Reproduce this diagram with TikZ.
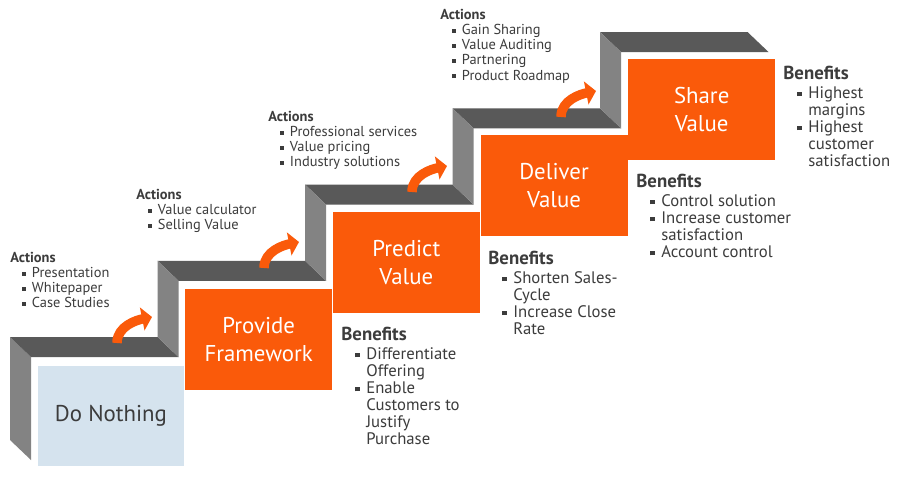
\documentclass[tikz,border=0pt]{standalone}
\usepackage{fontspec}
\setmainfont{PT Sans}
\usetikzlibrary{arrows.meta,positioning}

\definecolor{stepor}{HTML}{FA5A0A}
\definecolor{stepblue}{HTML}{D5E3EE}
\definecolor{topgray}{HTML}{595959}
\definecolor{sidegray}{HTML}{838383}
\definecolor{txtgray}{HTML}{3C3C3C}

% square bullet, bulleted line, continued line
\newcommand{\sq}{\raisebox{0.28ex}{\rule{0.27em}{0.27em}}}
\newcommand{\bi}{\hspace*{0.82em}\makebox[0.68em][l]{\sq}}
\newcommand{\bc}{\hspace*{0.82em}\makebox[0.68em][l]{}}

\tikzset{
  stepbox/.style={minimum width=2.94cm, minimum height=2.02cm, inner sep=0pt,
    align=center, font=\fontsize{13}{16}\selectfont},
  topface/.style={fill=topgray},
  sideface/.style={fill=sidegray},
  actions/.style={anchor=north west, inner sep=0pt, align=left, text=txtgray,
    font=\fontsize{8.2}{8.6}\selectfont},
  benefits/.style={anchor=north west, inner sep=0pt, align=left, text=txtgray,
    font=\fontsize{9.5}{9.7}\selectfont},
  stepup/.style={->, draw=stepor, line width=0.19cm}
}

\begin{document}
\begin{tikzpicture}[x=0.02cm, y=-0.02cm, >={Triangle[length=0.2cm,width=0.46cm]}]
  \useasboundingbox[fill=white] (0,0) rectangle (900,480);

  % grey stair edge
  \fill[sideface] (10,440) -- (10,337) -- ++(21,20) -- (31,460) -- cycle;
  \foreach \i in {0,...,4} {
    \pgfmathsetmacro\xa{10+147.5*\i}
    \pgfmathsetmacro\xb{10+147.5*(\i+1)}
    \pgfmathsetmacro\ya{337-76.25*\i}
    \fill[topface] (\xa,\ya) -- (\xb,\ya) -- ++(21,20) -- (\xa+21,\ya+20) -- cycle;
  }
  \foreach \i in {1,...,4} {
    \pgfmathsetmacro\xa{10+147.5*\i}
    \pgfmathsetmacro\ya{337-76.25*\i}
    \fill[sideface] (\xa,\ya+76.25) -- (\xa,\ya) -- ++(21,20) -- (\xa+21,\ya+96.25) -- cycle;
  }

  % steps
  \node[stepbox, fill=stepblue, text=txtgray] (nothing) at (111,416) {Do Nothing};
  \node[stepbox, fill=stepor, text=white] (provide) [right=0pt of nothing, yshift=1.535cm] {Provide\\Framework};
  \node[stepbox, fill=stepor, text=white] (predict) [right=0pt of provide, yshift=1.535cm] {Predict\\Value};
  \node[stepbox, fill=stepor, text=white] (deliver) [right=0pt of predict, yshift=1.535cm] {Deliver\\Value};
  \node[stepbox, fill=stepor, text=white] (share)   [right=0pt of deliver, yshift=1.535cm] {Share\\Value};

  % arrows up the stairs
  \coordinate (t1) at (117,343);  \coordinate (h1) at (152,317);
  \coordinate (t2) at (264,268);  \coordinate (h2) at (299,242);
  \coordinate (t3) at (412,192);  \coordinate (h3) at (447,166);
  \coordinate (t4) at (561,117);  \coordinate (h4) at (596,91);
  \foreach \n in {1,...,4}
    \draw[stepup] (t\n) .. controls +(0,-17) and +(-15,3) .. (h\n);

  % actions
  \node[actions] (act1) at (10,252) {\textbf{Actions}\\ \bi Presentation\\ \bi Whitepaper\\ \bi Case Studies};
  \node[actions] (act2) at (136,189) {\textbf{Actions}\\ \bi Value calculator\\ \bi Selling Value};
  \node[actions] (act3) at (268,111) {\textbf{Actions}\\ \bi Professional services\\ \bi Value pricing\\ \bi Industry solutions};
  \node[actions] (act4) at (440,9) {\textbf{Actions}\\ \bi Gain Sharing\\ \bi Value Auditing\\ \bi Partnering\\ \bi Product Roadmap};

  % benefits
  \node[benefits] (ben1) at (341,327) {{\fontsize{10.7}{12}\selectfont\bfseries Benefits}\\[1pt]
    \bi Differentiate\\ \bc Offering\\ \bi Enable\\ \bc Customers to\\ \bc Justify\\ \bc Purchase};
  \node[benefits] (ben2) at (488,251) {{\fontsize{10.7}{12}\selectfont\bfseries Benefits}\\[1pt]
    \bi Shorten Sales-\\ \bc Cycle\\ \bi Increase Close\\ \bc Rate};
  \node[benefits] (ben3) at (636,174) {{\fontsize{10.7}{12}\selectfont\bfseries Benefits}\\[1pt]
    \bi Control solution\\ \bi Increase customer\\ \bc satisfaction\\ \bi Account control};
  \node[benefits] (ben4) at (783,66) {{\fontsize{10.7}{12}\selectfont\bfseries Benefits}\\[1pt]
    \bi Highest\\ \bc margins\\ \bi Highest\\ \bc customer\\ \bc satisfaction};
\end{tikzpicture}
\end{document}
